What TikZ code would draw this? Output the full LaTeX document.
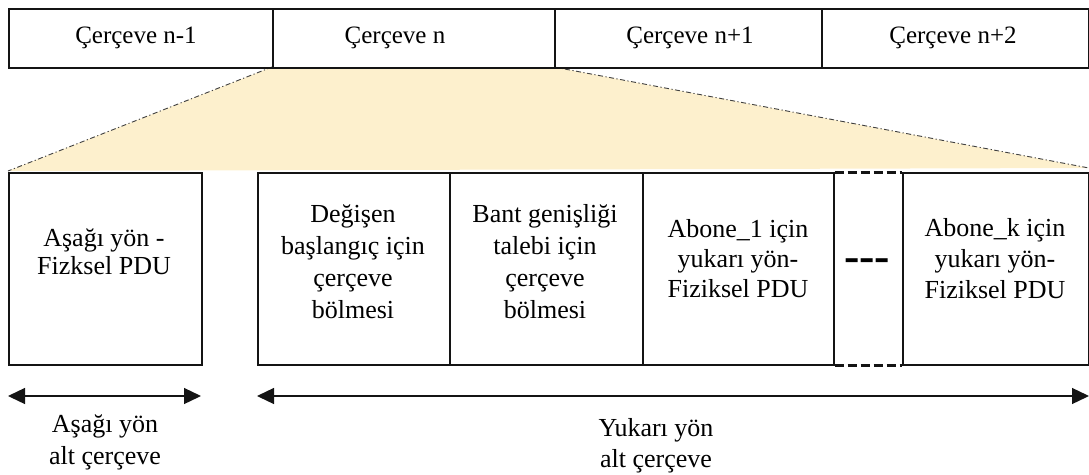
\documentclass[tikz,border=0pt]{standalone}
\usepackage{fontspec}
\setmainfont{Liberation Serif}
\usetikzlibrary{arrows.meta}
\definecolor{fanfill}{RGB}{253,240,205}
\definecolor{lineblk}{RGB}{20,20,20}
\begin{document}
\begin{tikzpicture}[x=1pt,y=-1pt,
  cellbox/.style={draw=lineblk,line width=1.6pt,inner sep=0pt,anchor=north west,minimum height=59pt},
  slotbox/.style={draw=lineblk,line width=1.6pt,inner sep=0pt,anchor=north west,minimum height=192pt},
  toptext/.style={font=\fontsize{25}{30}\selectfont,inner sep=0pt,anchor=base},
  boxtext/.style={font=\fontsize{26}{31}\selectfont,align=center,inner sep=0pt},
  labtext/.style={font=\fontsize{26}{30}\selectfont,align=center,inner sep=0pt},
  dimarrow/.style={line width=1.3pt,lineblk,{Triangle[length=17pt,width=16pt]}-{Triangle[length=17pt,width=16pt]}},
  fanline/.style={line width=0.9pt,black!75,dash pattern=on 5pt off 2.5pt on 1.2pt off 2.5pt},
  dotedge/.style={line width=3pt,lineblk,dash pattern=on 9pt off 4pt}
]
\useasboundingbox (0,0) rectangle (1089,474);
% fan
\coordinate (fanTL) at (272,67);
\coordinate (fanTR) at (554,67);
\coordinate (fanBR) at (1089,168);
\coordinate (fanBL) at (8,171);
\fill[fanfill] (fanTL) -- (fanTR) -- (fanBR) -- (fanBL) -- cycle;
\draw[fanline] (fanTL) -- (fanBL);
\draw[fanline] (fanTR) -- (fanBR);
% top row
\node[cellbox,minimum width=264pt] (c1) at (8,8) {};
\node[cellbox,minimum width=282pt] (c2) at (272,8) {};
\node[cellbox,minimum width=267pt] (c3) at (554,8) {};
\node[cellbox,minimum width=267pt] (c4) at (821,8) {};
\node[toptext] (t1) at (136,43) {Çerçeve n-1};
\node[toptext] (t2) at (395,43) {Çerçeve n};
\node[toptext] (t3) at (690,43) {Çerçeve n+1};
\node[toptext] (t4) at (953,43) {Çerçeve n+2};
% bottom boxes
\node[slotbox,minimum width=193pt] (d) at (8,172) {};
\node[slotbox,minimum width=192pt] (b1) at (257,172) {};
\node[slotbox,minimum width=193pt] (b2) at (449,172) {};
\node[slotbox,minimum width=191pt] (b3) at (642,172) {};
\node[slotbox,minimum width=186pt] (b5) at (902,172) {};
\coordinate (dotsTL) at (b3.north east);
\coordinate (dotsTR) at (b5.north west);
\coordinate (dotsBL) at (b3.south east);
\coordinate (dotsBR) at (b5.south west);
\draw[dotedge] (dotsTL) -- (dotsTR);
\draw[dotedge] (dotsBL) -- (dotsBR);
\node[font=\fontsize{46}{46}\selectfont\bfseries,inner sep=0pt] (dots) at (867,265) {-{}-{}-};
\node[boxtext,font=\fontsize{26}{28}\selectfont] (dtext) at (104,252) {Aşağı yön -\\Fizksel PDU};
\node[boxtext,font=\fontsize{26}{32}\selectfont] (b1text) at (353,262) {Değişen\\başlangıç için\\çerçeve\\bölmesi};
\node[boxtext,font=\fontsize{26}{32}\selectfont] (b2text) at (545,262) {Bant genişliği\\talebi için\\çerçeve\\bölmesi};
\node[boxtext,font=\fontsize{26}{30}\selectfont] (b3text) at (738,259) {Abone\_1 için\\yukarı yön-\\Fiziksel PDU};
\node[boxtext,font=\fontsize{26}{31}\selectfont] (b5text) at (995,259) {Abone\_k için\\yukarı yön-\\Fiziksel PDU};
% dimension arrows
\coordinate (a1l) at (8,396);
\coordinate (a1r) at (201,396);
\coordinate (a2l) at (257,396);
\coordinate (a2r) at (1089,396);
\draw[dimarrow] (a1l) -- (a1r);
\draw[dimarrow] (a2l) -- (a2r);
\node[labtext,font=\fontsize{26}{32}\selectfont] (l1) at (105,442) {Aşağı yön\\alt çerçeve};
\node[labtext,font=\fontsize{26}{31}\selectfont] (l2) at (656,446) {Yukarı yön\\alt çerçeve};
\end{tikzpicture}
\end{document}
